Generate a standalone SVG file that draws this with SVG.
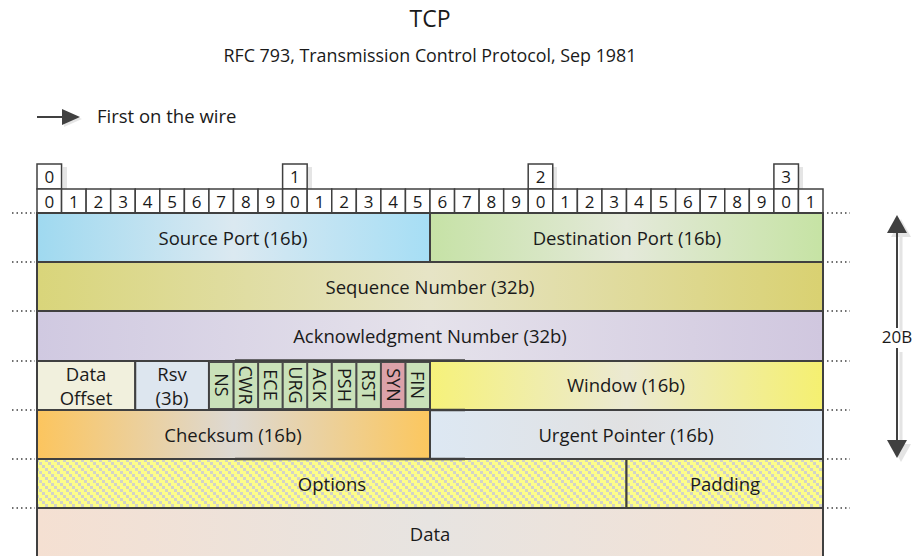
<svg xmlns="http://www.w3.org/2000/svg" width="914" height="556" viewBox="0 0 914 556">
<defs>
<style>
text{font-family:"Open Sans","Noto Sans","Liberation Sans",sans-serif;fill:#1a1a1a;}
.t{font-size:18.5px;text-anchor:middle;}
.d{font-size:17px;text-anchor:middle;}
.f{font-size:18px;text-anchor:middle;}
.cell{fill:#fff;stroke:#404040;stroke-width:1.5;}
.fld{stroke:#404040;stroke-width:2;}
.flag{fill:#c9e1b9;}
.dot{stroke:#404040;stroke-width:1.3;stroke-dasharray:1.5 3;}
.sh{fill:#000;opacity:0.1;}
</style>
<linearGradient id="gBlue" x1="0" x2="1" y1="0" y2="0"><stop offset="0" stop-color="#9fd9f0"/><stop offset="0.5" stop-color="#dbe9f1"/><stop offset="1" stop-color="#a6def5"/></linearGradient>
<linearGradient id="gGreen" x1="0" x2="1" y1="0" y2="0"><stop offset="0" stop-color="#c6e2a6"/><stop offset="0.5" stop-color="#e4e9da"/><stop offset="1" stop-color="#c6e3a4"/></linearGradient>
<linearGradient id="gOlive" x1="0" x2="1" y1="0" y2="0"><stop offset="0" stop-color="#d9d57a"/><stop offset="0.5" stop-color="#e6e4c6"/><stop offset="1" stop-color="#d9d171"/></linearGradient>
<linearGradient id="gLav" x1="0" x2="1" y1="0" y2="0"><stop offset="0" stop-color="#d0c9e1"/><stop offset="0.5" stop-color="#e5e2eb"/><stop offset="1" stop-color="#d0c7df"/></linearGradient>
<linearGradient id="gYel" x1="0" x2="1" y1="0" y2="0"><stop offset="0" stop-color="#f6f27a"/><stop offset="0.5" stop-color="#ebe9d2"/><stop offset="1" stop-color="#f5f070"/></linearGradient>
<linearGradient id="gOrange" x1="0" x2="1" y1="0" y2="0"><stop offset="0" stop-color="#fcc55e"/><stop offset="0.5" stop-color="#ddd9d3"/><stop offset="1" stop-color="#fcc75e"/></linearGradient>
<linearGradient id="gGrayBlue" x1="0" x2="1" y1="0" y2="0"><stop offset="0" stop-color="#dde8f3"/><stop offset="0.5" stop-color="#e1e1e2"/><stop offset="1" stop-color="#dde8f3"/></linearGradient>
<linearGradient id="gPeach" x1="0" x2="1" y1="0" y2="0"><stop offset="0" stop-color="#f5e0d2"/><stop offset="0.5" stop-color="#e7e4e1"/><stop offset="1" stop-color="#f5e1d3"/></linearGradient>
<pattern id="pCheck" width="9" height="9" patternUnits="userSpaceOnUse">
<rect width="9" height="9" fill="#fdfd8a"/>
<rect x="0" y="0" width="3" height="3" fill="#d2d2c8"/>
<rect x="3" y="3" width="3" height="3" fill="#d2d2c8"/>
<rect x="6" y="6" width="3" height="3" fill="#d2d2c8"/>
</pattern>
</defs>
<rect width="914" height="556" fill="#fff"/>

<g id="title">
<text x="430" y="27" style="font-size:23px;text-anchor:middle;">TCP</text>
<text x="430" y="62" style="font-size:18px;text-anchor:middle;" textLength="413" lengthAdjust="spacingAndGlyphs">RFC 793, Transmission Control Protocol, Sep 1981</text>
</g>

<g id="legend">
<polygon points="64,111 82,119 64,127" class="sh"/>
<line x1="37" y1="117" x2="64" y2="117" stroke="#404040" stroke-width="2"/>
<polygon points="62,109 80,117 62,125" fill="#404040"/>
<text x="97" y="123" style="font-size:18.5px;">First on the wire</text>
</g>

<g id="ruler">
<rect x="63" y="167" width="4" height="22" class="sh"/>
<rect x="308" y="167" width="4" height="22" class="sh"/>
<rect x="553" y="167" width="4" height="22" class="sh"/>
<rect x="799" y="167" width="4" height="22" class="sh"/>
<rect x="37" y="164" width="24.56" height="25" class="cell"/><text x="49.3" y="183" class="d">0</text>
<rect x="282.6" y="164" width="24.56" height="25" class="cell"/><text x="294.9" y="183" class="d">1</text>
<rect x="528.2" y="164" width="24.56" height="25" class="cell"/><text x="540.5" y="183" class="d">2</text>
<rect x="773.9" y="164" width="24.56" height="25" class="cell"/><text x="786.2" y="183" class="d">3</text>
<rect x="37" y="189" width="24.56" height="24" class="cell"/><text x="49.3" y="207.5" class="d">0</text>
<rect x="61.56" y="189" width="24.56" height="24" class="cell"/><text x="73.8" y="207.5" class="d">1</text>
<rect x="86.13" y="189" width="24.56" height="24" class="cell"/><text x="98.4" y="207.5" class="d">2</text>
<rect x="110.69" y="189" width="24.56" height="24" class="cell"/><text x="123" y="207.5" class="d">3</text>
<rect x="135.25" y="189" width="24.56" height="24" class="cell"/><text x="147.5" y="207.5" class="d">4</text>
<rect x="159.81" y="189" width="24.56" height="24" class="cell"/><text x="172.1" y="207.5" class="d">5</text>
<rect x="184.38" y="189" width="24.56" height="24" class="cell"/><text x="196.7" y="207.5" class="d">6</text>
<rect x="208.94" y="189" width="24.56" height="24" class="cell"/><text x="221.2" y="207.5" class="d">7</text>
<rect x="233.5" y="189" width="24.56" height="24" class="cell"/><text x="245.8" y="207.5" class="d">8</text>
<rect x="258.06" y="189" width="24.56" height="24" class="cell"/><text x="270.3" y="207.5" class="d">9</text>
<rect x="282.63" y="189" width="24.56" height="24" class="cell"/><text x="294.9" y="207.5" class="d">0</text>
<rect x="307.19" y="189" width="24.56" height="24" class="cell"/><text x="319.5" y="207.5" class="d">1</text>
<rect x="331.75" y="189" width="24.56" height="24" class="cell"/><text x="344" y="207.5" class="d">2</text>
<rect x="356.31" y="189" width="24.56" height="24" class="cell"/><text x="368.6" y="207.5" class="d">3</text>
<rect x="380.88" y="189" width="24.56" height="24" class="cell"/><text x="393.2" y="207.5" class="d">4</text>
<rect x="405.44" y="189" width="24.56" height="24" class="cell"/><text x="417.7" y="207.5" class="d">5</text>
<rect x="430" y="189" width="24.56" height="24" class="cell"/><text x="442.3" y="207.5" class="d">6</text>
<rect x="454.56" y="189" width="24.56" height="24" class="cell"/><text x="466.8" y="207.5" class="d">7</text>
<rect x="479.13" y="189" width="24.56" height="24" class="cell"/><text x="491.4" y="207.5" class="d">8</text>
<rect x="503.69" y="189" width="24.56" height="24" class="cell"/><text x="516" y="207.5" class="d">9</text>
<rect x="528.25" y="189" width="24.56" height="24" class="cell"/><text x="540.5" y="207.5" class="d">0</text>
<rect x="552.81" y="189" width="24.56" height="24" class="cell"/><text x="565.1" y="207.5" class="d">1</text>
<rect x="577.38" y="189" width="24.56" height="24" class="cell"/><text x="589.7" y="207.5" class="d">2</text>
<rect x="601.94" y="189" width="24.56" height="24" class="cell"/><text x="614.2" y="207.5" class="d">3</text>
<rect x="626.5" y="189" width="24.56" height="24" class="cell"/><text x="638.8" y="207.5" class="d">4</text>
<rect x="651.06" y="189" width="24.56" height="24" class="cell"/><text x="663.3" y="207.5" class="d">5</text>
<rect x="675.63" y="189" width="24.56" height="24" class="cell"/><text x="687.9" y="207.5" class="d">6</text>
<rect x="700.19" y="189" width="24.56" height="24" class="cell"/><text x="712.5" y="207.5" class="d">7</text>
<rect x="724.75" y="189" width="24.56" height="24" class="cell"/><text x="737" y="207.5" class="d">8</text>
<rect x="749.31" y="189" width="24.56" height="24" class="cell"/><text x="761.6" y="207.5" class="d">9</text>
<rect x="773.88" y="189" width="24.56" height="24" class="cell"/><text x="786.2" y="207.5" class="d">0</text>
<rect x="798.44" y="189" width="24.56" height="24" class="cell"/><text x="810.7" y="207.5" class="d">1</text>
</g>

<g id="connectors">
<g class="dot">
<line x1="12" y1="213" x2="35" y2="213"/><line x1="12" y1="262" x2="35" y2="262"/><line x1="12" y1="311" x2="35" y2="311"/><line x1="12" y1="361" x2="35" y2="361"/><line x1="12" y1="410" x2="35" y2="410"/><line x1="12" y1="459" x2="35" y2="459"/><line x1="12" y1="508" x2="35" y2="508"/>
<line x1="827" y1="213" x2="850" y2="213"/><line x1="827" y1="262" x2="850" y2="262"/><line x1="827" y1="311" x2="850" y2="311"/><line x1="827" y1="361" x2="850" y2="361"/><line x1="827" y1="410" x2="850" y2="410"/><line x1="827" y1="459" x2="850" y2="459"/><line x1="827" y1="508" x2="850" y2="508"/>
</g>
<g opacity="0.1">
<polygon points="891,237 901,219 911,237" fill="#000"/>
<polygon points="891,444 901,462 911,444" fill="#000"/>
<line x1="901" y1="237" x2="901" y2="332" stroke="#000" stroke-width="3"/>
<line x1="901" y1="352" x2="901" y2="444" stroke="#000" stroke-width="3"/>
</g>
<line x1="897" y1="232" x2="897" y2="328" stroke="#404040" stroke-width="2"/>
<line x1="897" y1="348" x2="897" y2="441" stroke="#404040" stroke-width="2"/>
<polygon points="887,233 897,215 907,233" fill="#404040"/>
<polygon points="887,440 897,458 907,440" fill="#404040"/>
<text x="897" y="343" style="font-size:17px;text-anchor:middle;">20B</text>
</g>

<g id="source-port"><rect x="37" y="213" width="393" height="49" fill="url(#gBlue)" class="fld"/><text x="233" y="245" class="t">Source Port (16b)</text></g>
<g id="destination-port"><rect x="430" y="213" width="393" height="49" fill="url(#gGreen)" class="fld"/><text x="627" y="245" class="t">Destination Port (16b)</text></g>
<g id="sequence-number"><rect x="37" y="262" width="786" height="49" fill="url(#gOlive)" class="fld"/><text x="430" y="294" class="t">Sequence Number (32b)</text></g>
<g id="ack-number"><rect x="37" y="311" width="786" height="50" fill="url(#gLav)" class="fld"/><text x="430" y="343" class="t">Acknowledgment Number (32b)</text></g>
<g id="data-offset"><rect x="37" y="361" width="98.25" height="49" fill="#f1f0dd" class="fld"/><text x="86" y="381" class="t">Data</text><text x="86" y="405" class="t">Offset</text></g>
<g id="rsv"><rect x="135.25" y="361" width="73.69" height="49" fill="#dde6ef" class="fld"/><text x="172" y="381" class="t">Rsv</text><text x="172" y="405" class="t">(3b)</text></g>
<g id="flags">
<rect x="208.94" y="361" width="221.06" height="49" fill="#4a4a4a"/>
<rect x="210" y="363" width="22.5" height="45" class="flag"/>
<rect x="234.6" y="363" width="22.5" height="45" class="flag"/>
<rect x="259.1" y="363" width="22.5" height="45" class="flag"/>
<rect x="283.7" y="363" width="22.5" height="45" class="flag"/>
<rect x="308.2" y="363" width="22.5" height="45" class="flag"/>
<rect x="332.8" y="363" width="22.5" height="45" class="flag"/>
<rect x="357.4" y="363" width="22.5" height="45" class="flag"/>
<rect x="381.9" y="363" width="22.5" height="45" fill="#dca2a9"/>
<rect x="406.5" y="363" width="22.5" height="45" class="flag"/>
<text transform="translate(214.8,385) rotate(90)" class="f">NS</text>
<text transform="translate(239.4,385) rotate(90)" class="f">CWR</text>
<text transform="translate(263.9,385) rotate(90)" class="f">ECE</text>
<text transform="translate(288.5,385) rotate(90)" class="f">URG</text>
<text transform="translate(313.1,385) rotate(90)" class="f">ACK</text>
<text transform="translate(337.6,385) rotate(90)" class="f">PSH</text>
<text transform="translate(362.2,385) rotate(90)" class="f">RST</text>
<text transform="translate(386.8,385) rotate(90)" class="f">SYN</text>
<text transform="translate(411.3,385) rotate(90)" class="f">FIN</text>
</g>
<g id="window"><rect x="430" y="361" width="393" height="49" fill="url(#gYel)" class="fld"/><text x="626" y="392" class="t">Window (16b)</text></g>
<g id="checksum"><rect x="37" y="410" width="393" height="49" fill="url(#gOrange)" class="fld"/><text x="233" y="442" class="t">Checksum (16b)</text></g>
<g id="urgent-pointer"><rect x="430" y="410" width="393" height="49" fill="url(#gGrayBlue)" class="fld"/><text x="626" y="442" class="t">Urgent Pointer (16b)</text></g>
<g id="options"><rect x="37" y="459" width="589.5" height="49" fill="url(#pCheck)" class="fld"/><text x="332" y="491" class="t">Options</text></g>
<g id="padding"><rect x="626.5" y="459" width="196.5" height="49" fill="url(#pCheck)" class="fld"/><text x="725" y="491" class="t">Padding</text></g>
<g id="data"><rect x="37" y="508" width="786" height="60" fill="url(#gPeach)" class="fld"/><text x="430" y="541" class="t">Data</text></g>
<g id="artifacts" stroke="#404040" stroke-width="2.5">
<line x1="235" y1="360.5" x2="465" y2="360.5"/>
<line x1="430" y1="410" x2="465" y2="410"/>
<line x1="235" y1="459" x2="465" y2="459"/>
</g>
</svg>
